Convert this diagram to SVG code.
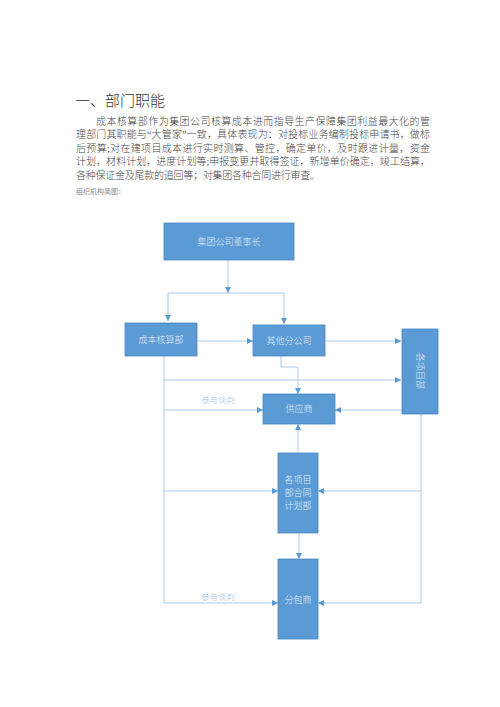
<svg xmlns="http://www.w3.org/2000/svg" width="500" height="707" viewBox="0 0 500 707">
<style>
.h{font-family:"Liberation Serif","Noto Sans CJK SC",serif;font-size:15px;font-weight:300;fill:#333}
.p{font-family:"Liberation Serif","Noto Sans CJK SC",serif;font-size:10px;font-weight:300;fill:#444}
.s{font-family:"Liberation Serif","Noto Sans CJK SC",serif;font-size:7px;fill:#888}
.box{fill:#5b9bd5;stroke:#4a86c0;stroke-width:0.8}
.bt{font-family:"Liberation Serif","Noto Sans CJK SC",serif;font-size:9px;font-weight:300;fill:#e6eef8;text-anchor:middle}
.c{fill:none;stroke:#a8c9ea;stroke-width:1}
.lbl{font-family:"Liberation Serif","Noto Sans CJK SC",serif;font-size:8.5px;font-weight:300;fill:#9dc3e6;text-anchor:middle}
</style>
<defs>
<marker id="ar" markerUnits="userSpaceOnUse" markerWidth="6" markerHeight="6" refX="6" refY="3" orient="auto">
<path d="M0,0 L6,3 L0,6 z" fill="#5b9bd5"/>
</marker>
</defs>
<rect width="500" height="707" fill="#fff"/>
<g id="text">
<text class="h" x="75" y="106">一、部门职能</text>
<text class="p" x="96" y="124.5" textLength="334" lengthAdjust="spacing">成本核算部作为集团公司核算成本进而指导生产保障集团利益最大化的管</text>
<text class="p" x="76" y="138" textLength="354" lengthAdjust="spacing">理部门其职能与“大管家”一致，具体表现为：对投标业务编制投标申请书，做标</text>
<text class="p" x="76" y="151.5" textLength="354" lengthAdjust="spacing">后预算;对在建项目成本进行实时测算、管控，确定单价，及时跟进计量，资金</text>
<text class="p" x="76" y="165" textLength="354" lengthAdjust="spacing">计划，材料计划，进度计划等;申报变更并取得签证，新增单价确定，竣工结算，</text>
<text class="p" x="76" y="178.5" textLength="244" lengthAdjust="spacing">各种保证金及尾款的追回等；对集团各种合同进行审查。</text>
<text class="s" x="76" y="193.5">组织机构简图：</text>
</g>
<g id="connectors">
<path class="c" d="M228,260 V293" marker-end="url(#ar)"/>
<path class="c" d="M168,293 H284"/>
<path class="c" d="M168,293 V321" marker-end="url(#ar)"/>
<path class="c" d="M284,293 V324" marker-end="url(#ar)"/>
<path class="c" d="M197,341 H253" marker-end="url(#ar)"/>
<path class="c" d="M325,341 H401" marker-end="url(#ar)"/>
<path class="c" d="M281,356 V367 H298 V394" marker-end="url(#ar)"/>
<path class="c" d="M164,356 V603"/>
<path class="c" d="M164,380 H401" marker-end="url(#ar)"/>
<path class="c" d="M164,410 H263" marker-end="url(#ar)"/>
<path class="c" d="M402,410 H335" marker-end="url(#ar)"/>
<path class="c" d="M421,414 V603"/>
<path class="c" d="M298,453 V424" marker-end="url(#ar)"/>
<path class="c" d="M164,491 H278" marker-end="url(#ar)"/>
<path class="c" d="M421,491 H318" marker-end="url(#ar)"/>
<path class="c" d="M299,533 V559" marker-end="url(#ar)"/>
<path class="c" d="M164,603 H278" marker-end="url(#ar)"/>
<path class="c" d="M421,603 H318" marker-end="url(#ar)"/>
<text class="lbl" x="218" y="403">参与谈判</text>
<text class="lbl" x="218" y="600">参与谈判</text>
</g>
<g id="n1"><rect class="box" x="164" y="223" width="130" height="37"/><text class="bt" x="229" y="245">集团公司董事长</text></g>
<g id="n2"><rect class="box" x="125" y="323" width="72" height="33"/><text class="bt" x="161" y="343">成本核算部</text></g>
<g id="n3"><rect class="box" x="253" y="325" width="72" height="31"/><text class="bt" x="289" y="344">其他分公司</text></g>
<g id="n4"><rect class="box" x="402" y="329" width="36" height="85"/><text class="bt" transform="translate(417,371) rotate(90)" x="0" y="0">各项目部</text></g>
<g id="n5"><rect class="box" x="263" y="394" width="72" height="30"/><text class="bt" x="299" y="412">供应商</text></g>
<g id="n6"><rect class="box" x="278" y="453" width="40" height="80"/><text class="bt" x="298" y="483">各项目</text><text class="bt" x="298" y="496">部合同</text><text class="bt" x="298" y="509">计划部</text></g>
<g id="n7"><rect class="box" x="278" y="559" width="40" height="80"/><text class="bt" x="298" y="603">分包商</text></g>
</svg>
